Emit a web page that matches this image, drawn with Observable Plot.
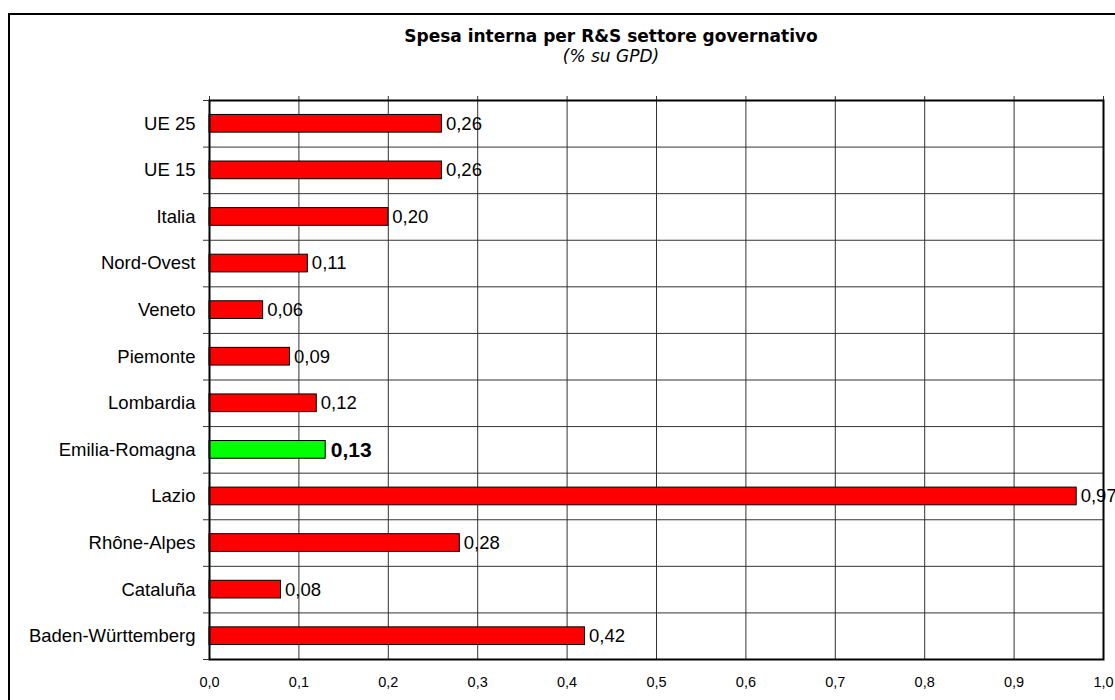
<!DOCTYPE html>
<html>
<head>
<meta charset="utf-8">
<script src="https://cdn.jsdelivr.net/npm/d3@7"></script>
<script src="https://cdn.jsdelivr.net/npm/@observablehq/plot@0.6"></script>
<style>
  html, body { margin: 0; padding: 0; background: #fff; overflow: hidden; }
  #page { position: relative; width: 1115px; height: 700px; overflow: hidden; }
  #chart { position: absolute; left: 0; top: 0; }
  #chart svg { background: transparent; }
  #frame { position: absolute; left: 8px; top: 13px; width: 1200px; height: 800px;
           border: 2px solid #000; pointer-events: none; }
  .title { position: absolute; left: 311px; width: 600px; text-align: center;
           font-family: "DejaVu Sans", Verdana, sans-serif; color: #000; line-height: 16px; }
  #t1 { top: 28px; font-size: 17px; font-weight: bold; }
  #t2 { top: 48px; font-size: 17px; font-style: italic; }
</style>
</head>
<body>
<div id="page">
  <div id="chart"></div>
  <div id="frame"></div>
  <div class="title" id="t1">Spesa interna per R&amp;S settore governativo</div>
  <div class="title" id="t2">(% su GPD)</div>
</div>
<script>
// Regions, top to bottom
const categories = [
  "UE 25", "UE 15", "Italia", "Nord-Ovest", "Veneto", "Piemonte",
  "Lombardia", "Emilia-Romagna", "Lazio", "Rhône-Alpes", "Cataluña", "Baden-Württemberg"
];
// Government-sector intramural R&D spending, % of GDP
const values = [0.26, 0.26, 0.20, 0.11, 0.06, 0.09, 0.12, 0.13, 0.97, 0.28, 0.08, 0.42];
const highlight = "Emilia-Romagna";
const xTicks = [0, 0.1, 0.2, 0.3, 0.4, 0.5, 0.6, 0.7, 0.8, 0.9, 1.0];

const data = categories.map((category, i) => ({category, value: values[i]}));

const it = d3.formatLocale({decimal: ",", thousands: ".", grouping: [3], currency: ["€", ""]});
const fmtValue = it.format(".2f");
const fmtTick = it.format(".1f");

const W = 1115, H = 700;
const mTop = 100, mBottom = 41, mLeft = 209, mRight = 12;
const step = (H - mTop - mBottom) / categories.length;

const chart = Plot.plot({
  width: W,
  height: H,
  marginTop: mTop,
  marginBottom: mBottom,
  marginLeft: mLeft,
  marginRight: mRight,
  style: {fontFamily: "'Liberation Sans', Arial, sans-serif", fontSize: "18.5px", color: "#000", background: "transparent"},
  x: {domain: [0, 1]},
  y: {domain: categories, paddingInner: 0.62, paddingOuter: 0.31, round: false},
  color: {type: "identity"},
  marks: [
    // vertical grid, poking a little above the plot area
    Plot.ruleX(xTicks, {stroke: "#333", strokeWidth: 1, insetTop: -4}),
    // horizontal grid at the band boundaries, with tick stubs to the left
    Plot.ruleY(categories, {stroke: "#333", strokeWidth: 1, dy: -step / 2, insetLeft: -6}),
    Plot.ruleY(categories.slice(-1), {stroke: "#333", strokeWidth: 1, dy: step / 2, insetLeft: -6}),
    Plot.barX(data, {
      x: "value",
      y: "category",
      fill: d => d.category === highlight ? "#00ff00" : "#ff0000",
      stroke: "#000",
      strokeWidth: 1
    }),
    Plot.frame({stroke: "#000", strokeWidth: 2}),
    Plot.axisY({tickSize: 0, tickPadding: 14, fontSize: 18.5, label: null}),
    Plot.axisX({ticks: xTicks, tickFormat: fmtTick, tickSize: 0, tickPadding: 17, fontSize: 14.5, label: null}),
    Plot.text(data.filter(d => d.category !== highlight), {
      x: "value", y: "category", text: d => fmtValue(d.value),
      textAnchor: "start", dx: 4, fontSize: 18.5, fill: "#000"
    }),
    Plot.text(data.filter(d => d.category === highlight), {
      x: "value", y: "category", text: d => fmtValue(d.value),
      textAnchor: "start", dx: 5, fontSize: 21, fontWeight: "bold", fill: "#000"
    })
  ]
});

document.getElementById("chart").appendChild(chart);
</script>
</body>
</html>
